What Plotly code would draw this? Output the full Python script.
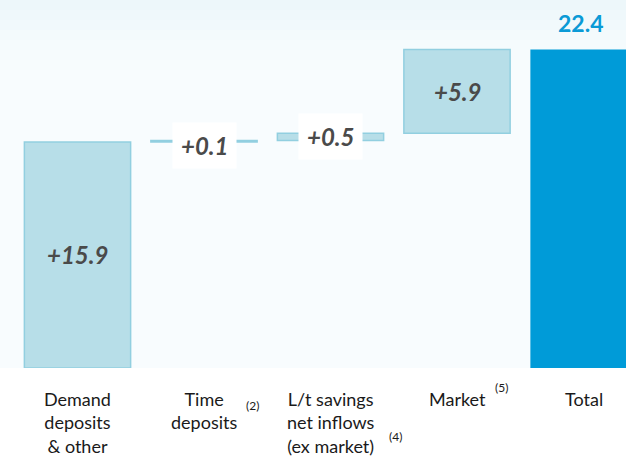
import plotly.graph_objects as go

categories = ["Demand<br>deposits<br>& other", "Time<br>deposits", "L/t savings<br>net inflows<br>(ex market)", "Market", "Total"]
footnotes = ["", "(2)", "(4)", "(5)", ""]
values = [15.9, 0.1, 0.5, 5.9, 22.4]
measures = ["relative", "relative", "relative", "relative", "total"]
value_labels = ["+15.9", "+0.1", "+0.5", "+5.9", "22.4"]

xs = list(range(len(categories)))
PX_PER_UNIT = 14.22
PLOT_H = 368

fig = go.Figure()
fig.add_trace(go.Waterfall(
    x=xs, y=values, measure=measures,
    width=0.84,
    increasing=dict(marker=dict(color="#b7dee8", line=dict(color="#92cfe0", width=1.5))),
    totals=dict(marker=dict(color="#009bd8", line=dict(color="#009bd8", width=0))),
    connector=dict(visible=False),
    textposition="none",
    hoverinfo="skip",
))

# background gradient in top band
top_cols = ["#edf7fa", "#eff8fb", "#f1f9fc", "#f3fafc", "#f5fbfd", "#f6fbfd", "#f7fcfd"]
n = len(top_cols)
band = 70 / PLOT_H
for i, c in enumerate(top_cols):
    fig.add_shape(type="rect", xref="paper", yref="paper", x0=0, x1=1,
                  y0=1 - band * (i + 1) / n, y1=1 - band * i / n,
                  fillcolor=c, line=dict(width=0), layer="below")

annotations = []
cum = 0
for i, (v, m, lab) in enumerate(zip(values, measures, value_labels)):
    if m == "relative":
        mid = cum + v / 2
        cum += v
        small = v < 1
        annotations.append(dict(
            x=i, y=mid, xref="x", yref="y", text=f"<b><i>{lab}</i></b>",
            showarrow=False, font=dict(family="Lato", size=24, color="#4a4a4a"),
            bgcolor="white" if small else "rgba(0,0,0,0)",
            borderpad=8 if small else 0,
            yshift=-4 if (small and v < 0.3) else 0,
        ))
    else:
        annotations.append(dict(
            x=i, y=cum, xref="x", yref="y", text=f"<b>{lab}</b>",
            showarrow=False, yanchor="bottom", yshift=10, xshift=-3,
            font=dict(family="Lato", size=23, color="#0a9ad6"),
        ))

fn_offsets = {1: (48, -28), 2: (65, -59), 3: (44, -10)}
for i, (cat, fn) in enumerate(zip(categories, footnotes)):
    annotations.append(dict(
        x=i, y=0, xref="x", yref="paper", text=cat, showarrow=False,
        yanchor="top", yshift=-18, align="center",
        font=dict(family="Lato", size=18, color="#1a1a1a"),
    ))
    if fn:
        dx, dy = fn_offsets[i]
        annotations.append(dict(
            x=i, y=0, xref="x", yref="paper", text=fn, showarrow=False,
            yanchor="top", xshift=dx, yshift=dy,
            font=dict(family="Lato", size=12, color="#1a1a1a"),
        ))

fig.update_layout(
    width=626, height=461,
    margin=dict(l=0, r=0, t=0, b=461 - PLOT_H),
    paper_bgcolor="white", plot_bgcolor="#f8fcfe",
    showlegend=False,
    annotations=annotations,
    xaxis=dict(range=[-77.5 / 126.5, (626 - 77.5) / 126.5], showticklabels=False,
               showgrid=False, zeroline=False, fixedrange=True),
    yaxis=dict(range=[0, PLOT_H / PX_PER_UNIT], showticklabels=False,
               showgrid=False, zeroline=False, fixedrange=True),
)

fig.write_html("out.html", config={"displayModeBar": False},
               post_script="document.body.style.margin='0';")
